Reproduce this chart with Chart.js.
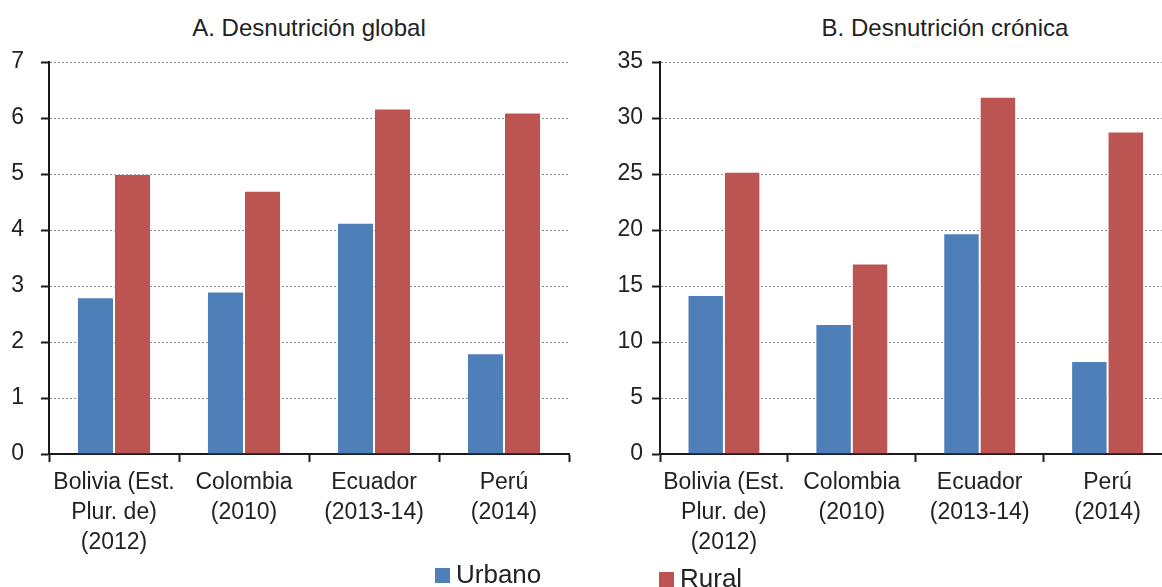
<!DOCTYPE html>
<html>
<head>
<meta charset="utf-8">
<script src="https://cdn.jsdelivr.net/npm/chart.js@4.4.1/dist/chart.umd.min.js"></script>
<style>
  html, body { margin: 0; padding: 0; background: #fff; overflow: hidden; }
  body { width: 1162px; height: 587px; position: relative; font-family: "Liberation Sans", Arial, sans-serif; color: #222; }
  canvas { position: absolute; top: 0; }
  #chartA { left: 0; }
  #chartB { left: 580px; }
  .title { position: absolute; top: 16px; font-size: 24px; line-height: 24px; text-align: center; white-space: nowrap; }
  .key { position: absolute; font-size: 26px; line-height: 26px; white-space: nowrap; }
  .key span { position: absolute; width: 15px; height: 15px; }
</style>
</head>
<body>

<div class="title" style="left:0; width:618px;">A. Desnutrición global</div>
<div class="title" style="left:700px; width:490px;">B. Desnutrición crónica</div>

<canvas id="chartA" width="580" height="587"></canvas>
<canvas id="chartB" width="600" height="587"></canvas>

<div id="keyUrbano" class="key" style="left:456px; top:561px;"></div>
<div id="keyRural" class="key" style="left:680px; top:565px;"></div>

<script>
// Data
const categories = [
    ['Bolivia (Est.', 'Plur. de)', '(2012)'],
    ['Colombia', '(2010)'],
    ['Ecuador', '(2013-14)'],
    ['Perú', '(2014)']
];
const seriesNames = ['Urbano', 'Rural'];
const seriesColors = ['#4F7FB8', '#BC5452'];

// A. Desnutrición global
const globalUrbano = [2.8, 2.9, 4.13, 1.8];
const globalRural  = [5.0, 4.7, 6.17, 6.1];
const globalMax = 7, globalStep = 1;

// B. Desnutrición crónica
const cronicaUrbano = [14.2, 11.6, 19.7, 8.3];
const cronicaRural  = [25.2, 17.0, 31.9, 28.8];
const cronicaMax = 35, cronicaStep = 5;

const FONT = 'Liberation Sans, Arial, sans-serif';

function barSet(label, data, color) {
    return {
        label: label,
        data: data,
        backgroundColor: color,
        borderColor: 'rgba(255,255,255,0.25)',
        borderWidth: 1,
        categoryPercentage: 0.57,
        barPercentage: 1
    };
}

function makeChart(id, urbano, rural, yMax, yStep, yWidth, yPad, padRight) {
    const ctx = document.getElementById(id).getContext('2d');
    return new Chart(ctx, {
        type: 'bar',
        data: {
            labels: categories,
            datasets: [
                barSet(seriesNames[0], urbano, seriesColors[0]),
                barSet(seriesNames[1], rural, seriesColors[1])
            ]
        },
        options: {
            responsive: false,
            animation: false,
            layout: { padding: { top: 62, right: padRight, bottom: 0, left: 0 } },
            plugins: {
                legend: { display: false },
                title: { display: false },
                tooltip: { enabled: false }
            },
            scales: {
                x: {
                    offset: true,
                    afterFit: s => { s.height = 133; },
                    grid: {
                        offset: true,
                        drawOnChartArea: false,
                        drawTicks: true,
                        tickLength: 8,
                        tickWidth: 2,
                        tickColor: '#1a1a1a'
                    },
                    border: { color: '#1a1a1a', width: 2 },
                    ticks: {
                        color: '#222',
                        padding: 6,
                        maxRotation: 0,
                        autoSkip: false,
                        font: { family: FONT, size: 23, lineHeight: 1.3 }
                    }
                },
                y: {
                    min: 0,
                    max: yMax,
                    afterFit: s => { s.width = yWidth; },
                    grid: {
                        color: '#8a8a8a',
                        lineWidth: 1,
                        tickLength: 8,
                        tickWidth: 2,
                        tickColor: '#1a1a1a'
                    },
                    border: { color: '#1a1a1a', width: 2, dash: [2, 2] },
                    ticks: {
                        stepSize: yStep,
                        color: '#222',
                        padding: yPad,
                        font: { family: FONT, size: 23 }
                    }
                }
            }
        }
    });
}

makeChart('chartA', globalUrbano, globalRural, globalMax, globalStep, 49, 17, 11);
makeChart('chartB', cronicaUrbano, cronicaRural, cronicaMax, cronicaStep, 80, 9, 8.5);

// Legend keys, split under each panel like the original
function fillKey(id, i) {
    const el = document.getElementById(id);
    el.innerHTML = '<span style="left:-21px; top:7px; background:' + seriesColors[i] + ';"></span>' + seriesNames[i];
}
fillKey('keyUrbano', 0);
fillKey('keyRural', 1);
</script>
</body>
</html>
